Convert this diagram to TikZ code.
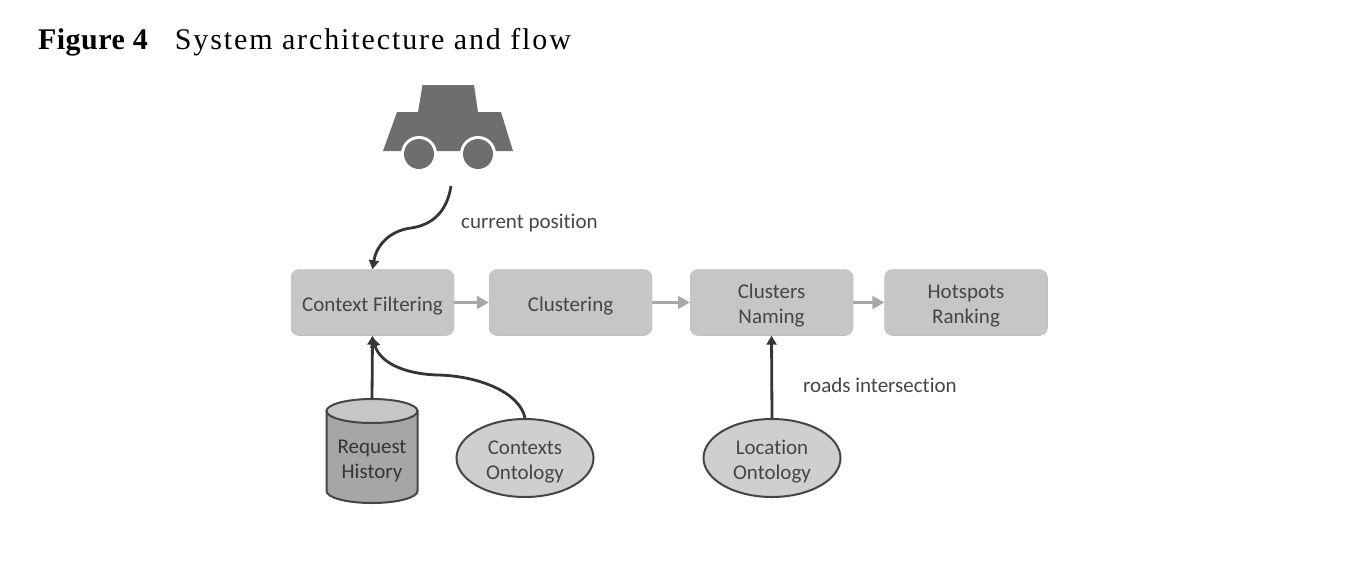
\documentclass[tikz,border=0pt]{standalone}
\usepackage{fontspec}
\setmainfont{Liberation Serif}
\newfontfamily\diagfont[Ligatures=NoCommon]{Carlito}
\newfontfamily\titlereg[LetterSpace=6.3]{Liberation Serif}
\newfontfamily\titlebold[LetterSpace=1.5]{Liberation Serif Bold}
\usetikzlibrary{arrows.meta,shapes.geometric,shadows}
\definecolor{boxfill}{HTML}{C6C6C6}
\definecolor{boxedge}{HTML}{8A8A8A}
\definecolor{cylbody}{HTML}{A6A6A6}
\definecolor{ink}{HTML}{454545}
\definecolor{dark}{HTML}{353535}
\definecolor{carcol}{HTML}{6E6E6E}
\definecolor{flow}{HTML}{A8A8A8}
\newcommand{\tworow}[2]{\raisebox{-9pt}[0pt][0pt]{\begin{tabular}[c]{@{}c@{}}#1\\#2\end{tabular}}}
\newcommand{\onerow}[1]{\raisebox{-8.5pt}[0pt][0pt]{#1}}
\tikzset{
  difont/.style={font=\diagfont\fontsize{21}{25}\selectfont,text=ink},
  procbox/.style={difont,rounded corners=8pt,fill=boxfill,minimum width=163pt,minimum height=66pt,
    general shadow={yshift=-2.2pt,fill=boxedge,opacity=1},inner sep=0pt},
  onto/.style={difont,ellipse,draw=ink,line width=2pt,fill=boxfill!85!white,minimum width=137pt,minimum height=78pt,
    inner sep=0pt},
  store/.style={minimum width=91pt,minimum height=104pt,inner sep=0pt},
  label/.style={difont,anchor=west,inner sep=0pt},
  flowarrow/.style={draw=flow,line width=2.4pt,-{Triangle[length=12pt,width=13pt]}},
  feedarrow/.style={draw=dark,line width=2.8pt,-{Triangle[length=9pt,width=10pt]}},
}
\begin{document}
\begin{tikzpicture}[x=1pt,y=-1pt]
\useasboundingbox (0,0) rectangle (1364,574);
% title
\node[anchor=base west,inner sep=0pt,font=\fontsize{30}{34}\selectfont] (title) at (38,49) {{\titlebold Figure 4}\hspace{27pt}{\titlereg System architecture and flow}};
% car
\fill[carcol] (422.5,85) -- (474,85) -- (478,112) -- (501,112) -- (513,151) -- (383,151) -- (397,112) -- (418,112) -- cycle;
\foreach \cx in {419,478}{
  \fill[white] (\cx,154) circle[radius=18];
  \fill[carcol] (\cx,154) circle[radius=15];
}
\coordinate (carpin) at (451,186);
% boxes
\node[procbox] (cf) at (372.5,302.5) {\onerow{Context Filtering}};
\node[procbox] (cl) at (570.5,302.5) {\onerow{Clustering}};
\node[procbox] (cn) at (771.5,302.5) {\tworow{Clusters}{Naming}};
\node[procbox] (hr) at (966,302.5) {\tworow{Hotspots}{Ranking}};
% cylinder
\fill[cylbody,draw=ink,line width=2pt] (326.5,411) -- (326.5,491) arc[start angle=180,end angle=0,x radius=45.5,y radius=12] -- (417.5,411) -- cycle;
\fill[boxfill,draw=ink,line width=2pt] (372,411) ellipse[x radius=45.5,y radius=12];
\node[store] (hist) at (372,451) {};
\node[difont,text=dark,inner sep=0pt] (histtxt) at (372,457) {\tworow{Request}{History}};
% ontologies
\node[onto] (ctx) at (525,458) {\tworow{Contexts}{Ontology}};
\node[onto] (loc) at (772,458) {\tworow{Location}{Ontology}};
% labels
\node[label] (curpos) at (461,222.5) {current position};
\node[label] (roads) at (803,385.5) {roads intersection};
% flow
\draw[flowarrow] (cf.east) -- (cl.west);
\draw[flowarrow] (cl.east) -- (cn.west);
\draw[flowarrow] (cn.east) -- (hr.west);
% feeds
\draw[feedarrow] (carpin) .. controls (447,212) and (432,225) .. (411,228) .. controls (388,231) and (376,247) .. (cf.north);
\draw[feedarrow] (hist.north) -- (cf.south);
\draw[feedarrow] (ctx.north) .. controls (520,393) and (480,376) .. (438,375) .. controls (403,374) and (380,362) .. ([yshift=-2pt]cf.south);
\draw[feedarrow] (loc.north) -- (cn.south);
\end{tikzpicture}
\end{document}
